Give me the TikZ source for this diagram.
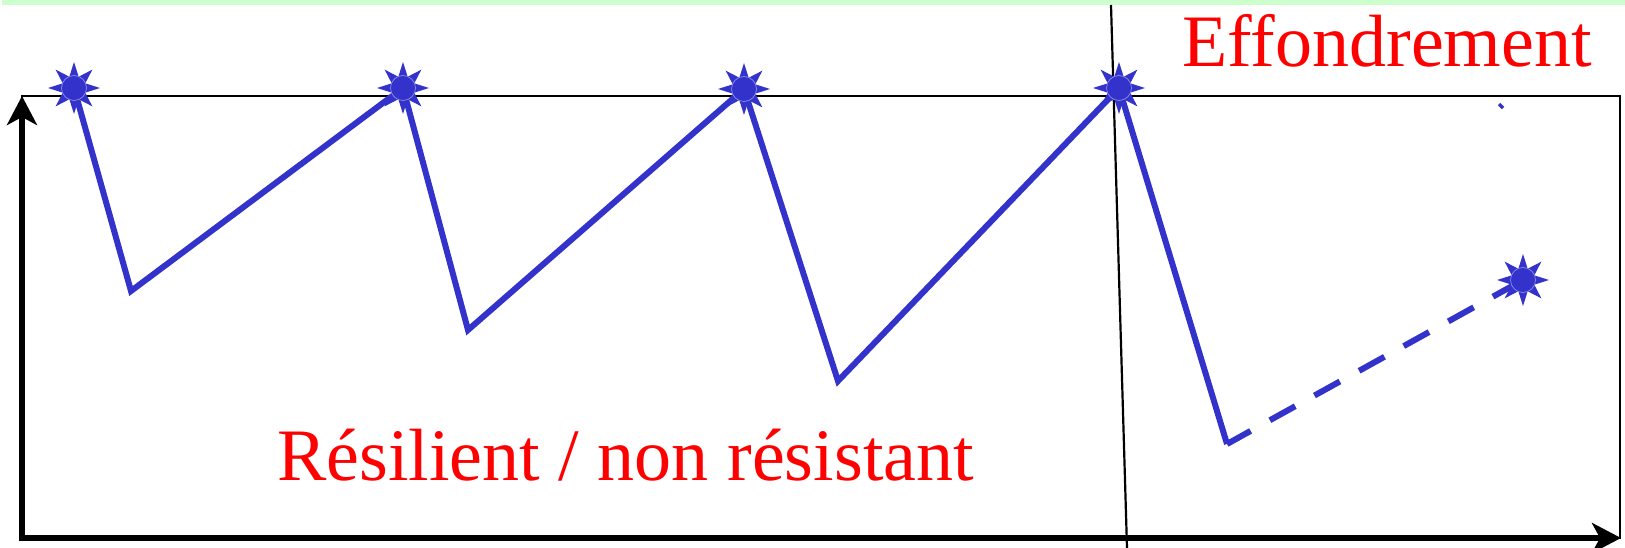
\documentclass[tikz,border=0pt]{standalone}
\usepackage{fontspec}
\setmainfont{Liberation Serif}
\usetikzlibrary{arrows.meta}
\definecolor{curve}{RGB}{51,51,204}
\definecolor{strip}{RGB}{204,255,204}
\definecolor{hubedge}{RGB}{150,150,235}
\tikzset{
  axis/.style={line width=6.5pt, line join=miter, >={Stealth[length=29pt, width=30pt, inset=8pt]}},
  thin/.style={line width=2.2pt},
  zig/.style={curve, line width=6pt, line join=miter},
  zigdash/.style={curve, line width=6pt, dash pattern=on 29pt off 22pt, dash phase=2pt},
  spike/.style={fill=curve, draw=none},
  hub/.style={circle, minimum size=25pt, inner sep=0pt, fill=curve, draw=hubedge, line width=0.6pt},
  label/.style={text=red, inner sep=0pt, anchor=base west, font=\fontsize{74pt}{80pt}\selectfont}
}
\begin{document}
\begin{tikzpicture}[x=1pt,y=-1pt]
\useasboundingbox (0,0) rectangle (1625,548);
% top strip
\fill[strip] (2,0) rectangle (1625,5);
% frame
\draw[thin] (22,96) rectangle (1620,538);
% axes
\coordinate (ytop) at (22,96);
\coordinate (origin) at (22,538);
\coordinate (xend) at (1621,538);
\draw[axis, <->] (ytop) -- (origin) -- (xend);
% separating line
\coordinate (sepA) at (1111,5);
\coordinate (sepB) at (1127,548);
\draw[thin] (sepA) -- (sepB);
% points
\coordinate (p1) at (74,88);
\coordinate (p2) at (403,88);
\coordinate (p3) at (744,89);
\coordinate (p4) at (1119,88);
\coordinate (p5) at (1523,280);
\coordinate (v1) at (131,291);
\coordinate (v2) at (468,330);
\coordinate (v3) at (838,381);
\coordinate (v4) at (1227,444);
\draw[zig] (p1) -- (v1) -- (p2) -- (v2) -- (p3) -- (v3) -- (p4) -- (v4);
\draw[zigdash] (v4) -- (p5);
% tiny mark
\coordinate (mA) at (1499,104);
\coordinate (mB) at (1503,108);
\draw[curve, line width=3.5pt] (mA) -- (mB);
% stars
\foreach \i in {1,...,5} {
  \begin{scope}[shift={(p\i)}]
    \foreach \a in {0,45,...,315} {
      \fill[spike] (\a:26) -- (\a+28:11) -- (\a-28:11) -- cycle;
    }
  \end{scope}
  \node[hub] (s\i) at (p\i) {};
}
% labels
\node[label] (eff) at (1182,67) {Effondrement};
\node[label] (res) at (277,480) {Résilient / non résistant};
\end{tikzpicture}
\end{document}
